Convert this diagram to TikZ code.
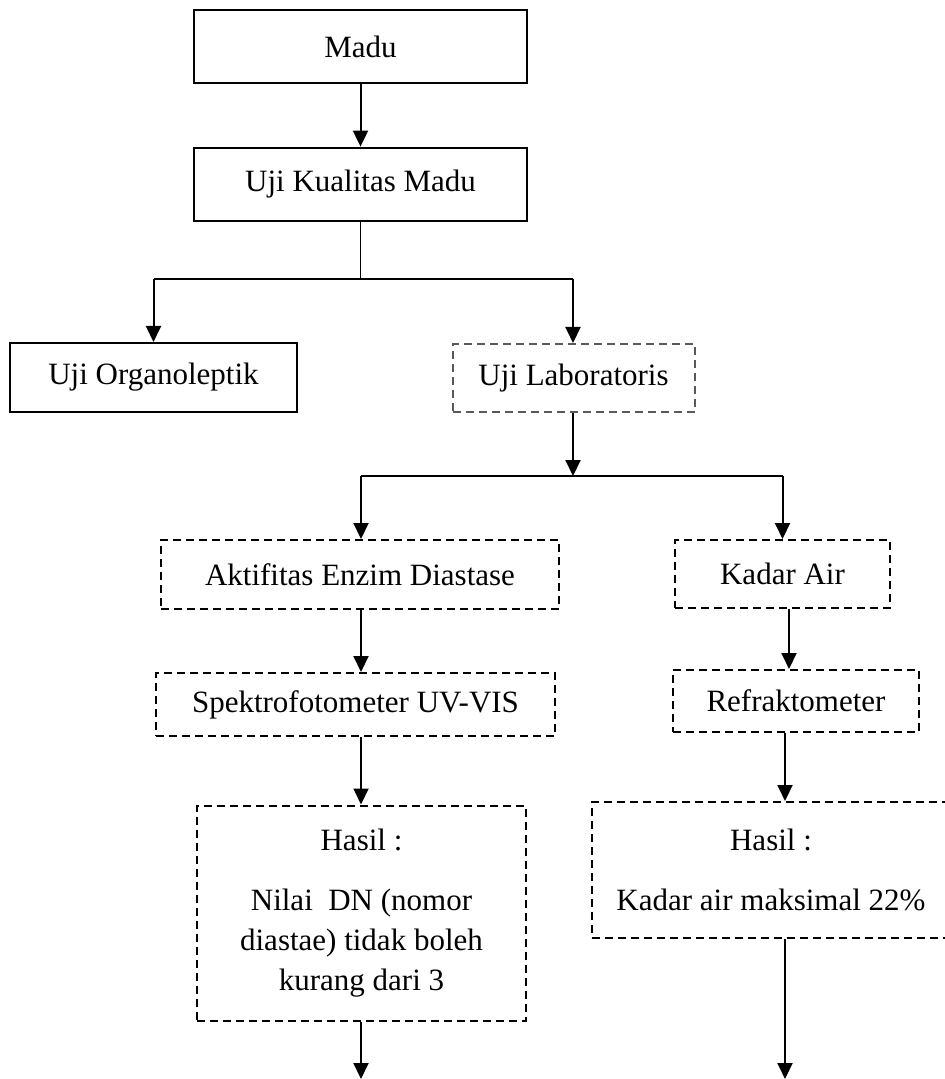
\documentclass[tikz,border=0pt]{standalone}
\usepackage{fontspec}
\setmainfont{Liberation Serif}
\usetikzlibrary{arrows.meta}
\begin{document}
\begin{tikzpicture}[x=.5pt, y=-.5pt, >={Triangle[length=8pt,width=7.5pt]}, line join=miter,
	every node/.style={font=\fontsize{15.5}{20}\selectfont, inner sep=0pt, align=center},
	solidbox/.style={draw, line width=1.4pt},
	dashbox/.style={draw, line width=1pt, dash pattern=on 4pt off 2.5pt},
	greybox/.style={dashbox, draw=black!65},
	link/.style={line width=1pt}]
	%% Định nghĩa khung
	\def\xmax{945}
	\def\ymax{1079}
	\useasboundingbox (0,0) rectangle (\xmax,\ymax);
	\clip (0,0) rectangle (\xmax,\ymax);
	%% Các hộp
	\node [solidbox, minimum width=166.5pt, minimum height=36.5pt] (madu) at (360.5,46.5) {Madu};
	\node [solidbox, minimum width=166.5pt, minimum height=36.5pt] (kualitas) at (360.5,184.5) {Uji Kualitas Madu};
	\node [solidbox, line width=1pt, minimum width=143.5pt, minimum height=34.5pt] (organo) at (153.5,377.5) {Uji Organoleptik};
	\node [greybox, minimum width=121pt, minimum height=34pt] (lab) at (573.5,378) {Uji Laboratoris};
	\node [dashbox, minimum width=199pt, minimum height=34.5pt] (aktif) at (360,574.5) {Aktifitas Enzim Diastase};
	\node [dashbox, minimum width=107.5pt, minimum height=34pt] (kadar) at (782.5,574) {Kadar Air};
	\node [dashbox, minimum width=199.5pt, minimum height=31.5pt] (spektro) at (355.5,704.5) {Spektrofotometer UV-VIS};
	\node [dashbox, minimum width=123pt, minimum height=31pt] (refrak) at (796,701) {Refraktometer};
	\node [dashbox, minimum width=164.5pt, minimum height=107.5pt] (hasilA) at (361.5,913) {Hasil :\\[10pt] Nilai\ \ DN (nomor\\ diastae) tidak boleh\\ kurang dari 3};
	\node [dashbox, minimum width=179pt, minimum height=68pt] (hasilB) at (771,870) {Hasil :\\[10pt] Kadar air maksimal 22\%};
	%% Các điểm rẽ nhánh
	\coordinate (split1) at (361,279);
	\coordinate (split2) at (573,476);
	\coordinate (laneK) at (789,0);
	\coordinate (laneR) at (785,0);
	\coordinate (endA) at (361,\ymax);
	\coordinate (endB) at (785,\ymax);
	%% Các mũi tên
	\draw [link, ->] (madu) -- (kualitas);
	\draw [line width=.7pt] (kualitas.south) -- (kualitas.south |- split1);
	\draw [link] (organo.north |- split1) -- (split2 |- split1);
	\draw [link, ->] (organo.north |- split1) -- (organo.north);
	\draw [link, ->] (split2 |- split1) -- (lab.north -| split2);
	\draw [link, ->] (lab.south -| split2) -- (split2);
	\draw [link] (split2 -| endA) -- (kadar.north |- split2);
	\draw [link, ->] (split2 -| endA) -- (aktif.north -| endA);
	\draw [link, ->] (kadar.north |- split2) -- (kadar.north);
	\draw [link, ->] (aktif.south -| endA) -- (spektro.north -| endA);
	\draw [link, ->] (kadar.south -| laneK) -- (refrak.north -| laneK);
	\draw [link, ->] (spektro.south -| endA) -- (hasilA.north -| endA);
	\draw [link, ->] (refrak.south -| laneR) -- (hasilB.north -| laneR);
	\draw [link, ->] (hasilA.south -| endA) -- (endA);
	\draw [link, ->] (hasilB.south -| laneR) -- (endB);
\end{tikzpicture}
\end{document}
